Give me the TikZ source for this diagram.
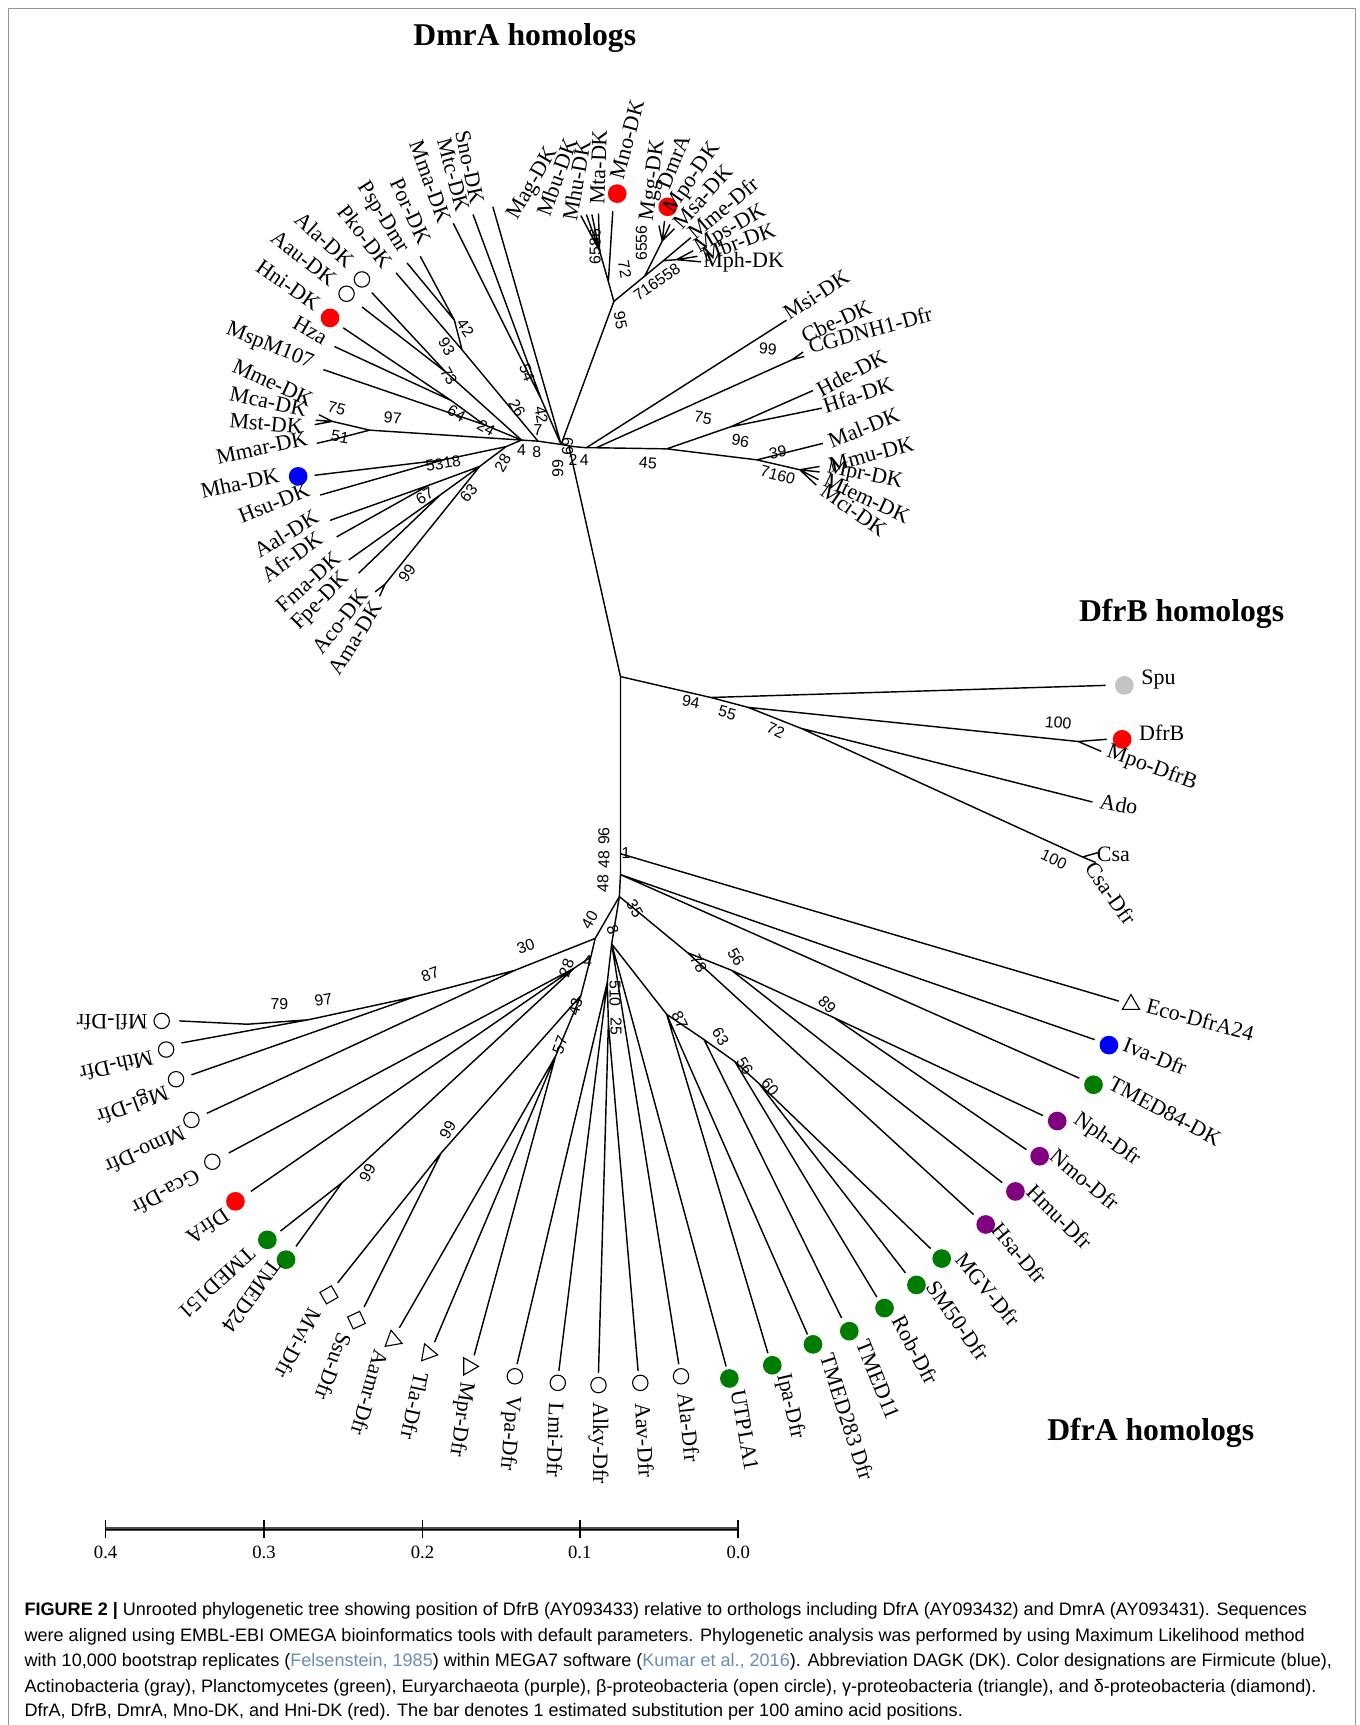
\documentclass[tikz,border=0pt]{standalone}
\usepackage{fontspec}
\setmainfont{Liberation Serif}
\setsansfont{Liberation Sans}
\usetikzlibrary{shapes.geometric}
\definecolor{pgreen}{RGB}{0,125,0}
\definecolor{ppurple}{RGB}{128,0,128}
\definecolor{pgray}{RGB}{195,195,195}
\definecolor{plink}{RGB}{105,140,185}
\definecolor{pframe}{RGB}{150,150,150}
\begin{document}
\begin{tikzpicture}[x=0.5pt,y=-0.5pt,
  br/.style={line width=0.65pt, black},
  lab/.style={font=\fontsize{10}{12}\selectfont, inner sep=0pt},
  bs/.style={font=\sffamily\fontsize{7.2}{8}\selectfont, inner sep=0pt},
  ttl/.style={font=\bfseries\fontsize{14.4}{16}\selectfont, inner sep=0pt},
  captxt/.style={font=\sffamily\fontsize{8.2}{9}\selectfont, inner sep=0pt, anchor=west},
  dot/.style={circle, fill=#1, draw=none, minimum size=8.5pt, inner sep=0pt},
  ocirc/.style={circle, draw=black, line width=0.5pt, minimum size=7pt, inner sep=0pt},
  tri/.style={regular polygon, regular polygon sides=3, draw=black, line width=0.5pt, minimum size=9pt, inner sep=0pt},
  dia/.style={regular polygon, regular polygon sides=4, draw=black, line width=0.5pt, minimum size=8.5pt, inner sep=0pt},
  frame/.style={draw=pframe, line width=0.6pt}
]
\useasboundingbox (0,0) rectangle (1236,1568);
\draw[frame] (8,1572) -- (8,8) -- (1232,8) -- (1232,1572);

% ---------------- titles
\node[ttl] (tDmrA) at (477,35) {DmrA homologs};
\node[ttl] (tDfrB) at (1074,558) {DfrB homologs};
\node[ttl] (tDfrA) at (1046,1302) {DfrA homologs};

% ---------------- internal nodes and leaf ends (upper part)
\coordinate (hub) at (510,404);
\coordinate (L0) at (474,400);
\coordinate (L1) at (489,401);
\coordinate (L2) at (460,406);
\coordinate (HR) at (522,406);
\coordinate (HRa) at (533,407);
\coordinate (HRb) at (542,407);
\coordinate (TR0) at (517,405);
\coordinate (T1) at (564,615);

\coordinate (N54) at (492,363);
\coordinate (eSno) at (448,188);
\coordinate (eMtc) at (430,195);
\coordinate (eMma) at (412,203);
\coordinate (N42) at (413,291);
\coordinate (N93) at (420,318);
\coordinate (ePor) at (382,233);
\coordinate (ePsp) at (370,239);
\coordinate (ePko) at (360,248);
\coordinate (N73) at (405,338);
\coordinate (eAla) at (338,266);
\coordinate (eAau) at (329,279);
\coordinate (N64) at (410,364);
\coordinate (N24) at (440,386);
\coordinate (eHni) at (312,298);
\coordinate (eHza) at (304,315);
\coordinate (eMsp) at (294,336);
\coordinate (N75) at (302,383);
\coordinate (N51) at (305,399);
\coordinate (N97u) at (336,391);
\coordinate (eMme) at (290,377);
\coordinate (eMca) at (287,382);
\coordinate (eMst) at (286,386);
\coordinate (eMmar) at (288,403);
\coordinate (N53) at (403,418);
\coordinate (eMha) at (286,432);
\coordinate (eHsu) at (291,450);
\coordinate (N28u) at (436,424);
\coordinate (N67) at (390,441);
\coordinate (N63u) at (400,450);
\coordinate (N99u) at (350,531);
\coordinate (eAal) at (300,473);
\coordinate (eAfr) at (306,488);
\coordinate (eFma) at (317,509);
\coordinate (eFpe) at (326,521);
\coordinate (eAco) at (341,538);
\coordinate (eAma) at (345,542);

\coordinate (N95) at (558,274);
\coordinate (NM) at (553,256);
\coordinate (eMno) at (557,192);
\coordinate (NMt) at (545,228);
\coordinate (eMa) at (528,196);
\coordinate (eMb) at (533,195);
\coordinate (eMc) at (538,195);
\coordinate (eMta) at (544,194);
\coordinate (NR1) at (586,251);
\coordinate (NDm) at (602,219);
\coordinate (eMgg) at (599,205);
\coordinate (eDmrA) at (604,201);
\coordinate (eMpo) at (609,204);
\coordinate (eMsa) at (613,208);
\coordinate (NR2) at (603,237);
\coordinate (eMme2) at (628,216);
\coordinate (NR3) at (615,236);
\coordinate (eMps) at (630,228);
\coordinate (eMbr) at (634,233);
\coordinate (eMph) at (637,238);

\coordinate (eMsi) at (715,291);
\coordinate (N99r) at (720,327);
\coordinate (eCbe) at (730,320);
\coordinate (eCGD) at (731,324);
\coordinate (N45) at (606,408);
\coordinate (N75r) at (664,388);
\coordinate (eHde) at (739,355);
\coordinate (eHfa) at (747,371);
\coordinate (N96r) at (688,418);
\coordinate (eMal) at (748,403);
\coordinate (N7160) at (727,427);
\coordinate (eMmu) at (745,424);
\coordinate (eMpr) at (745,429);
\coordinate (eMtem) at (744,436);
\coordinate (eMci) at (742,441);

% DfrB clade
\coordinate (N94) at (646,634);
\coordinate (N55) at (680,643);
\coordinate (N72) at (728,662);
\coordinate (eSpu) at (1005,623);
\coordinate (NDfrB) at (980,674);
\coordinate (eDfrB) at (1006,672);
\coordinate (eMpoB) at (1001,683);
\coordinate (eAdo) at (993,729);
\coordinate (NCsa) at (984,779);
\coordinate (eCsa) at (998,775);
\coordinate (eCsaD) at (996,784);

% lower part
\coordinate (B0) at (564,776);
\coordinate (B1) at (564,795);
\coordinate (B2) at (563,815);
\coordinate (eEco) at (1017,910);
\coordinate (eIva) at (995,945);
\coordinate (eT84) at (981,980);
\coordinate (N35) at (585,833);
\coordinate (N78) at (625,866);
\coordinate (N56a) at (665,882);
\coordinate (N89) at (758,925);
\coordinate (eNph) at (948,1014);
\coordinate (eNmo) at (933,1045);
\coordinate (eHmu) at (911,1075);
\coordinate (eHsa) at (885,1104);
\coordinate (N8) at (556,858);
\coordinate (N87b) at (606,922);
\coordinate (N63) at (640,945);
\coordinate (N56b) at (668,965);
\coordinate (N60) at (690,985);
\coordinate (eMGV) at (846,1135);
\coordinate (eSM50) at (823,1157);
\coordinate (eRob) at (797,1179);
\coordinate (eT11) at (765,1198);
\coordinate (eT283) at (734,1213);
\coordinate (eIpa) at (698,1230);
\coordinate (eUTP) at (660,1242);
\coordinate (eAlaD) at (617,1240);
\coordinate (N510) at (552,893);
\coordinate (N25) at (553,930);
\coordinate (eAav) at (580,1246);
\coordinate (eAlky) at (544,1248);
\coordinate (eLmi) at (508,1246);
\coordinate (eVpa) at (470,1240);
\coordinate (N40) at (541,853);
\coordinate (N1) at (537,870);
\coordinate (N28a) at (522,880);
\coordinate (N43) at (528,905);
\coordinate (N57) at (505,960);
\coordinate (N99b) at (401,1048);
\coordinate (N99a) at (311,1075);
\coordinate (eMprD) at (431,1232);
\coordinate (eTla) at (395,1220);
\coordinate (eAamr) at (363,1207);
\coordinate (eSsu) at (331,1188);
\coordinate (eMvi) at (307,1166);
\coordinate (eT24) at (269,1133);
\coordinate (eT151) at (255,1119);
\coordinate (eDfrA) at (228,1083);
\coordinate (eGca) at (208,1048);
\coordinate (N30) at (468,882);
\coordinate (N87a) at (377,906);
\coordinate (N97) at (280,927);
\coordinate (N79) at (225,931);
\coordinate (eMmo) at (188,1012);
\coordinate (eMgl) at (174,977);
\coordinate (eMth) at (165,948);
\coordinate (eMfl) at (163,928);

% ---------------- branches
\draw[br] (L2)--(L0)--(L1)--(hub)--(HR)--(HRa)--(HRb)--(N45);
\draw[br] (TR0)--(T1)--(B0)--(B1)--(B2);
\draw[br] (eSno)--(hub) (eMtc)--(N54) (eMma)--(N54) (N54)--(hub);
\draw[br] (ePor)--(N42) (ePsp)--(N42) (N42)--(N93) (ePko)--(N93) (N93)--(L1);
\draw[br] (eAla)--(N73) (eAau)--(N73) (N73)--(L0);
\draw[br] (eHni)--(N64) (eHza)--(N64) (N64)--(N24) (eMsp)--(N24) (N24)--(L0);
\draw[br] (eMme)--(N75) (eMca)--(N75) (eMst)--(N75) (N75)--(N97u) (eMmar)--(N51) (N51)--(N97u) (N97u)--(L0);
\draw[br] (eMha)--(N53) (eHsu)--(N53) (N53)--(L2);
\draw[br] (eAal)--(N67) (eAfr)--(N67) (N67)--(N28u) (eFma)--(N63u) (eFpe)--(N63u) (N63u)--(N28u)
          (eAco)--(N99u) (eAma)--(N99u) (N99u)--(N28u) (N28u)--(L2);
% top centre
\draw[br] (hub)--(N95)--(NM)--(eMno) (NM)--(NMt) (NMt)--(eMa) (NMt)--(eMb) (NMt)--(eMc) (NMt)--(eMta);
\draw[br] (N95)--(NR1)--(NR2)--(eMme2) (NR1)--(NDm) (NDm)--(eMgg) (NDm)--(eDmrA) (NDm)--(eMpo) (NDm)--(eMsa)
          (NR2)--(NR3) (NR3)--(eMps) (NR3)--(eMbr) (NR3)--(eMph);
% right
\draw[br] (HRa)--(eMsi) (HRb)--(N99r) (N99r)--(eCbe) (N99r)--(eCGD);
\draw[br] (N45)--(N75r) (N75r)--(eHde) (N75r)--(eHfa) (N45)--(N96r) (N96r)--(eMal) (N96r)--(N7160)
          (N7160)--(eMmu) (N7160)--(eMpr) (N7160)--(eMtem) (N7160)--(eMci);
% DfrB
\draw[br] (T1)--(N94)--(N55)--(N72)--(NCsa) (N94)--(eSpu) (N55)--(NDfrB) (NDfrB)--(eDfrB) (NDfrB)--(eMpoB)
          (N72)--(eAdo) (NCsa)--(eCsa) (NCsa)--(eCsaD);
% lower right
\draw[br] (B0)--(eEco) (B1)--(eIva) (B1)--(eT84);
\draw[br] (B2)--(N35)--(N78)--(N56a)--(N89) (N78)--(eHsa) (N56a)--(eHmu) (N89)--(eNph) (N89)--(eNmo);
\draw[br] (B2)--(N8)--(N87b)--(N63)--(N56b)--(N60) (N60)--(eMGV) (N60)--(eSM50) (N56b)--(eRob) (N63)--(eT11)
          (N87b)--(eT283) (N87b)--(eIpa) (N8)--(eUTP) (N8)--(eAlaD);
\draw[br] (N8)--(N510)--(N25) (N510)--(eVpa) (N510)--(eLmi) (N25)--(eAlky) (N25)--(eAav);
% lower left
\draw[br] (B2)--(N40)--(N1)--(N28a) (N1)--(N43) (N43)--(N57) (N57)--(eAamr) (N57)--(eTla) (N57)--(eMprD)
          (N43)--(N99b) (N99b)--(eMvi) (N99b)--(eSsu) (N28a)--(N99a) (N99a)--(eT151) (N99a)--(eT24)
          (N28a)--(eDfrA) (N28a)--(eGca);
\draw[br] (N40)--(N30)--(N87a)--(N97)--(N79)--(eMfl) (N97)--(eMth) (N87a)--(eMgl) (N30)--(eMmo);

% ---------------- markers
\node[ocirc] (mAla) at (329,254) {};
\node[ocirc] (mAau) at (315,267) {};
\node[dot=red] (mHni) at (300,289) {};
\node[dot=blue] (mMha) at (271,433) {};
\node[dot=red] (mMno) at (561,176) {};
\node[dot=red] (mDmrA) at (607,188) {};
\node[dot=pgray] (mSpu) at (1022,623) {};
\node[dot=red] (mDfrB) at (1020,672) {};
\node[tri] (mEco) at (1028,913) {};
\node[dot=blue] (mIva) at (1008,950) {};
\node[dot=pgreen] (mT84) at (994,986) {};
\node[dot=ppurple] (mNph) at (961,1019) {};
\node[dot=ppurple] (mNmo) at (945,1051) {};
\node[dot=ppurple] (mHmu) at (923,1083) {};
\node[dot=ppurple] (mHsa) at (896,1113) {};
\node[dot=pgreen] (mMGV) at (856,1144) {};
\node[dot=pgreen] (mSM50) at (833,1168) {};
\node[dot=pgreen] (mRob) at (804,1189) {};
\node[dot=pgreen] (mT11) at (772,1210) {};
\node[dot=pgreen] (mT283) at (739,1222) {};
\node[dot=pgreen] (mIpa) at (702,1241) {};
\node[dot=pgreen] (mUTP) at (663,1253) {};
\node[ocirc] (mAlaD) at (619,1251) {};
\node[ocirc] (mAav) at (582,1257) {};
\node[ocirc] (mAlky) at (544,1259) {};
\node[ocirc] (mLmi) at (507,1257) {};
\node[ocirc] (mVpa) at (468,1251) {};
\node[tri, rotate=30] (mMprD) at (426,1242) {};
\node[tri, rotate=20] (mTla) at (389,1230) {};
\node[tri, rotate=10] (mAamr) at (357,1218) {};
\node[dia, rotate=25] (mSsu) at (324,1200) {};
\node[dia, rotate=30] (mMvi) at (299,1177) {};
\node[dot=pgreen] (mT24) at (260,1145) {};
\node[dot=pgreen] (mT151) at (243,1127) {};
\node[dot=red] (mDfrA) at (214,1092) {};
\node[ocirc] (mGca) at (193,1056) {};
\node[ocirc] (mMmo) at (174,1018) {};
\node[ocirc] (mMgl) at (160,981) {};
\node[ocirc] (mMth) at (151,954) {};
\node[ocirc] (mMfl) at (147,928) {};

% ---------------- leaf labels
\node[lab, rotate=-78] (lSno) at (427,152) {Sno-DK};
\node[lab, rotate=-75] (lMtc) at (412,159) {Mtc-DK};
\node[lab, rotate=-70] (lMma) at (391,165) {Mma-DK};
\node[lab, rotate=-65] (lPor) at (373,192) {Por-DK};
\node[lab, rotate=-58] (lPsp) at (348,198) {Psp-Dmr};
\node[lab, rotate=-52] (lPko) at (332,215) {Pko-DK};
\node[lab, rotate=-42] (lAla) at (295,218) {Ala-DK};
\node[lab, rotate=-38] (lAau) at (276,235) {Aau-DK};
\node[lab, rotate=-35] (lHni) at (262,259) {Hni-DK};
\node[lab, rotate=-30] (lHza) at (282,300) {Hza};
\node[lab, rotate=-22] (lMsp) at (245,315) {MspM107};
\node[lab, rotate=-25] (lMme) at (248,348) {Mme-DK};
\node[lab, rotate=-12] (lMca) at (244,365) {Mca-DK};
\node[lab, rotate=-5] (lMst) at (242,385) {Mst-DK};
\node[lab, rotate=12] (lMmar) at (238,407) {Mmar-DK};
\node[lab, rotate=12] (lMha) at (218,439) {Mha-DK};
\node[lab, rotate=22] (lHsu) at (249,457) {Hsu-DK};
\node[lab, rotate=32] (lAal) at (260,485) {Aal-DK};
\node[lab, rotate=36] (lAfr) at (265,506) {Afr-DK};
\node[lab, rotate=42] (lFma) at (280,529) {Fma-DK};
\node[lab, rotate=45] (lFpe) at (292,547) {Fpe-DK};
\node[lab, rotate=52] (lAco) at (309,565) {Aco-DK};
\node[lab, rotate=58] (lAma) at (323,580) {Ama-DK};

\node[lab, rotate=60] (lMa) at (485,167) {Mag-DK};
\node[lab, rotate=70] (lMb) at (506,161) {Mbu-DK};
\node[lab, rotate=80] (lMc) at (524,164) {Mhu-DK};
\node[lab, rotate=88] (lMta) at (544,152) {Mta-DK};
\node[lab, rotate=75] (lMno) at (570,127) {Mno-DK};
\node[lab, rotate=82] (lMgg) at (594,164) {Mgg-DK};
\node[lab, rotate=68] (lDmrA) at (612,147) {DmrA};
\node[lab, rotate=55] (lMpo) at (630,162) {Mpo-DK};
\node[lab, rotate=48] (lMsa) at (639,179) {Msa-DK};
\node[lab, rotate=40] (lMme2) at (657,189) {Mme-Dfr};
\node[lab, rotate=30] (lMps) at (664,209) {Mps-DK};
\node[lab, rotate=20] (lMbr) at (671,220) {Mbr-DK};
\node[lab] (lMph) at (676,238) {Mph-DK};

\node[lab, rotate=33] (lMsi) at (742,268) {Msi-DK};
\node[lab, rotate=25] (lCbe) at (760,292) {Cbe-DK};
\node[lab, rotate=15] (lCGD) at (791,300) {CGDNH1-Dfr};
\node[lab, rotate=28] (lHde) at (774,339) {Hde-DK};
\node[lab, rotate=18] (lHfa) at (780,359) {Hfa-DK};
\node[lab, rotate=22] (lMal) at (785,389) {Mal-DK};
\node[lab, rotate=15] (lMmu) at (792,413) {Mmu-DK};
\node[lab, rotate=-12] (lMpr) at (786,432) {Mpr-DK};
\node[lab, rotate=-25] (lMtem) at (788,453) {Mtem-DK};
\node[lab, rotate=-35] (lMci) at (776,464) {Mci-DK};

\node[lab] (lSpu) at (1053,618) {Spu};
\node[lab] (lDfrB) at (1056,666) {DfrB};
\node[lab, rotate=-20] (lMpoB) at (1047,698) {Mpo-DfrB};
\node[lab, rotate=-10] (lAdo) at (1017,731) {Ado};
\node[lab] (lCsa) at (1012,777) {Csa};
\node[lab, rotate=-55] (lCsaD) at (1010,812) {Csa-Dfr};

\node[lab, rotate=-15] (lEco) at (1091,927) {Eco-DfrA24};
\node[lab, rotate=-22] (lIva) at (1050,960) {Iva-Dfr};
\node[lab, rotate=-28] (lT84) at (1059,1010) {TMED84-DK};
\node[lab, rotate=-35] (lNph) at (1006,1036) {Nph-Dfr};
\node[lab, rotate=-40] (lNmo) at (986,1072) {Nmo-Dfr};
\node[lab, rotate=-45] (lHmu) at (963,1106) {Hmu-Dfr};
\node[lab, rotate=-50] (lHsa) at (927,1139) {Hsa-Dfr};
\node[lab, rotate=-50] (lMGV) at (898,1172) {MGV-Dfr};
\node[lab, rotate=-55] (lSM50) at (871,1200) {SM50-Dfr};
\node[lab, rotate=-62] (lRob) at (832,1227) {Rob-Dfr};
\node[lab, rotate=-68] (lT11) at (798,1254) {TMED11};
\node[lab, rotate=-72] (lT283) at (770,1288) {TMED283 Dfr};
\node[lab, rotate=-77] (lIpa) at (718,1278) {Ipa-Dfr};
\node[lab, rotate=-80] (lUTP) at (677,1300) {UTPLA1};
\node[lab, rotate=-84] (lAlaD) at (626,1297) {Ala-Dfr};
\node[lab, rotate=-87] (lAav) at (586,1309) {Aav-Dfr};
\node[lab, rotate=-90] (lAlky) at (544,1312) {Alky-Dfr};
\node[lab, rotate=-92] (lLmi) at (505,1309) {Lmi-Dfr};
\node[lab, rotate=-95] (lVpa) at (463,1303) {Vpa-Dfr};
\node[lab, rotate=-98] (lMprD) at (419,1290) {Mpr-Dfr};
\node[lab, rotate=-102] (lTla) at (377,1278) {Tla-Dfr};
\node[lab, rotate=-106] (lAamr) at (336,1266) {Aamr-Dfr};
\node[lab, rotate=-110] (lSsu) at (303,1242) {Ssu-Dfr};
\node[lab, rotate=-118] (lMvi) at (271,1221) {Mvi-Dfr};
\node[lab, rotate=-126] (lT24) at (229,1178) {TMED24};
\node[lab, rotate=-137] (lT151) at (197,1166) {TMED151};
\node[lab, rotate=214] (lDfrA) at (189,1115) {DfrA};
\node[lab, rotate=208] (lGca) at (151,1084) {Gca-Dfr};
\node[lab, rotate=205] (lMmo) at (132,1046) {Mmo-Dfr};
\node[lab, rotate=200] (lMgl) at (120,1003) {Mgl-Dfr};
\node[lab, rotate=193] (lMth) at (106,969) {Mth-Dfr};
\node[lab, rotate=180] (lMfl) at (102,929) {Mfl-Dfr};

% ---------------- bootstrap values
\node[bs, rotate=-55] (b01) at (423,298) {42};
\node[bs, rotate=-60] (b02) at (406,315) {93};
\node[bs, rotate=-60] (b03) at (408,342) {73};
\node[bs, rotate=-30] (b04) at (415,376) {64};
\node[bs, rotate=-30] (b05) at (442,389) {24};
\node[bs, rotate=-60] (b06) at (470,371) {26};
\node[bs, rotate=-80] (b07) at (492,377) {42};
\node[bs] (b08) at (489,391) {7};
\node[bs, rotate=-70] (b09) at (479,339) {54};
\node[bs, rotate=-15] (b10) at (306,371) {75};
\node[bs, rotate=-5] (b11) at (357,380) {97};
\node[bs, rotate=-10] (b12) at (309,397) {51};
\node[bs] (b13) at (474,409) {4};
\node[bs] (b14) at (488,411) {8};
\node[bs, rotate=10] (b15) at (403,421) {5318};
\node[bs, rotate=60] (b16) at (457,421) {28};
\node[bs, rotate=30] (b17) at (386,451) {67};
\node[bs, rotate=50] (b18) at (426,448) {63};
\node[bs, rotate=55] (b19) at (370,521) {99};
\node[bs, rotate=-90] (b20) at (516,406) {69};
\node[bs, rotate=-90] (b21) at (507,426) {66};
\node[bs] (b22) at (526,418) {2\,4};
\node[bs, rotate=-80] (b23) at (564,291) {95};
\node[bs, rotate=-80] (b24) at (568,245) {72};
\node[bs, rotate=90] (b25) at (583,221) {6556};
\node[bs, rotate=90] (b26) at (541,224) {6586};
\node[bs, rotate=35] (b27) at (597,256) {716558};
\node[bs, rotate=-5] (b28) at (698,317) {99};
\node[bs, rotate=-10] (b29) at (639,380) {75};
\node[bs, rotate=-10] (b30) at (673,401) {96};
\node[bs, rotate=-5] (b31) at (589,421) {45};
\node[bs, rotate=10] (b32) at (707,411) {39};
\node[bs, rotate=-15] (b33) at (707,432) {7160};
\node[bs, rotate=-10] (b34) at (628,638) {94};
\node[bs, rotate=-15] (b35) at (661,648) {55};
\node[bs, rotate=-25] (b36) at (705,664) {72};
\node[bs, rotate=-5] (b37) at (962,657) {100};
\node[bs, rotate=-25] (b38) at (958,781) {100};
\node[bs, rotate=90] (b39) at (549,760) {96};
\node[bs, rotate=90] (b40) at (549,781) {48};
\node[bs, rotate=90] (b41) at (548,803) {48};
\node[bs] (b42) at (569,775) {1};
\node[bs, rotate=-60] (b43) at (577,826) {35};
\node[bs, rotate=60] (b44) at (536,836) {40};
\node[bs, rotate=-70] (b45) at (557,845) {8};
\node[bs, rotate=-60] (b46) at (635,876) {78};
\node[bs, rotate=-60] (b47) at (669,870) {56};
\node[bs, rotate=-45] (b48) at (752,913) {89};
\node[bs, rotate=-65] (b49) at (618,927) {87};
\node[bs, rotate=-60] (b50) at (655,942) {63};
\node[bs, rotate=-60] (b51) at (677,969) {56};
\node[bs, rotate=-50] (b52) at (700,988) {60};
\node[bs, rotate=-90] (b53) at (559,903) {510};
\node[bs, rotate=-90] (b54) at (560,933) {25};
\node[bs, rotate=20] (b55) at (478,860) {30};
\node[bs, rotate=20] (b56) at (391,886) {87};
\node[bs, rotate=10] (b57) at (294,909) {97};
\node[bs] (b58) at (254,913) {79};
\node[bs, rotate=70] (b59) at (515,880) {28};
\node[bs] (b60) at (534,874) {4};
\node[bs, rotate=75] (b61) at (523,915) {43};
\node[bs, rotate=70] (b62) at (509,950) {57};
\node[bs, rotate=60] (b63) at (407,1027) {99};
\node[bs, rotate=60] (b64) at (334,1066) {99};

% ---------------- scale bar
\coordinate (s4) at (96,1390);
\coordinate (s0) at (671,1390);
\draw[line width=1.6pt, black!70] (s4) -- (s0);
\draw[line width=0.5pt] (s4) -- (s0);
\foreach \x/\t in {96/0.4, 240/0.3, 384/0.2, 527/0.1, 671/0.0} {
  \draw[line width=0.7pt] (\x,1382) -- (\x,1398);
  \node[font=\fontsize{8.5}{10}\selectfont, inner sep=0pt] (sl\x) at (\x,1411) {\t};
}

% ---------------- caption
\node[captxt] (c1) at (22,1464) {\textbf{FIGURE 2 \textbar} Unrooted phylogenetic tree showing position of DfrB (AY093433) relative to orthologs including DfrA (AY093432) and DmrA (AY093431). Sequences};
\node[captxt] (c2) at (22,1488) {were aligned using EMBL-EBI OMEGA bioinformatics tools with default parameters. Phylogenetic analysis was performed by using Maximum Likelihood method};
\node[captxt] (c3) at (22,1511) {with 10,000 bootstrap replicates (\textcolor{plink}{Felsenstein, 1985}) within MEGA7 software (\textcolor{plink}{Kumar et al., 2016}). Abbreviation DAGK (DK). Color designations are Firmicute (blue),};
\node[captxt] (c4) at (22,1534) {Actinobacteria (gray), Planctomycetes (green), Euryarchaeota (purple), β-proteobacteria (open circle), γ-proteobacteria (triangle), and δ-proteobacteria (diamond).};
\node[captxt] (c5) at (22,1556) {DfrA, DfrB, DmrA, Mno-DK, and Hni-DK (red). The bar denotes 1 estimated substitution per 100 amino acid positions.};
\end{tikzpicture}
\end{document}
